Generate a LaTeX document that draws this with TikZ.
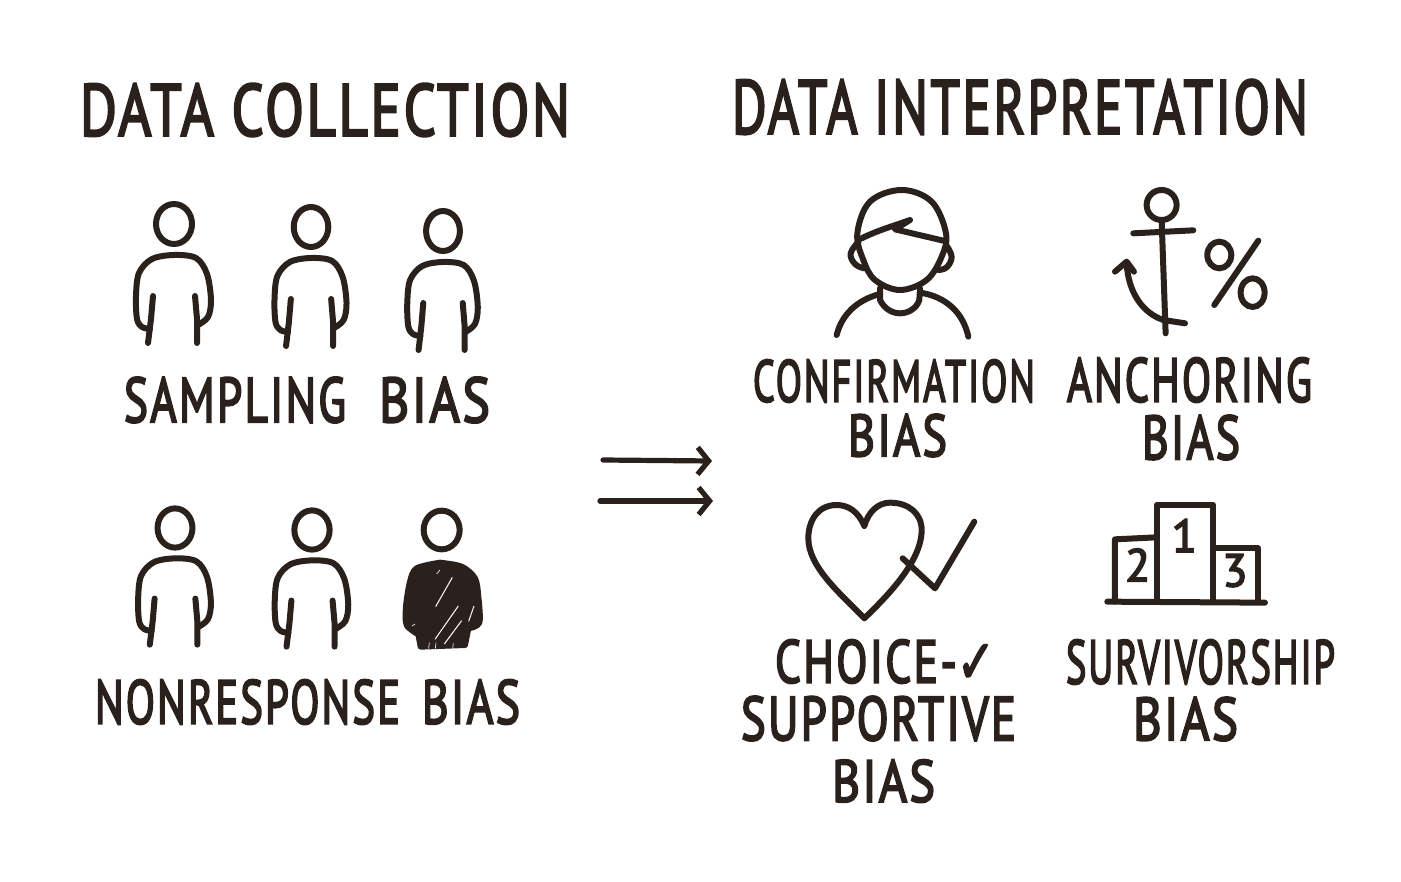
\documentclass[tikz,border=0pt]{standalone}
\usepackage{fontspec}
\setmainfont{PT Sans}[LetterSpace=5,FakeBold=3.5]
\newfontfamily\checkfont{DejaVu Sans}[FakeBold=3]
\usetikzlibrary{positioning,arrows.meta}
\definecolor{inkbrown}{HTML}{2A211C}
\newcommand{\handtext}[3]{\resizebox{#1}{#2}{#3}}
\tikzset{
    every node/.style={text=inkbrown,inner sep=0pt},
    ink/.style={draw=inkbrown,line width=3pt,line cap=round,line join=round},
    digit/.style={font=\fontsize{23}{23}\selectfont},
    flow/.style={ink,line width=2.6pt,-{Straight Barb[length=5.5pt,width=13.5pt,line width=2.6pt]}},
    person/.pic={
        \draw[ink] (0,0) ellipse [x radius=18,y radius=20];
        \draw[ink] plot[smooth,tension=.55] coordinates {(-24,105) (-32,103) (-37,95) (-38,72) (-35,49) (-22,35) (0,31) (22,34) (33,50) (37,76) (34,93) (24,101)};
        \draw[ink] (-21,72) -- (-23,95) -- (-26,119);
        \draw[ink] (21,72) -- (23,95) -- (23,119);
    }
}
\begin{document}
\begin{tikzpicture}[x=.5pt,y=-.5pt]
    \useasboundingbox (0,0) rectangle (1401,882);

    % titles
    \node (collect) at (325,110) {\handtext{245pt}{26pt}{DATA COLLECTION}};
    \node (interp) at (1020,107) {\handtext{288pt}{27pt}{DATA INTERPRETATION}};

    % left column
    \pic at (174,224) {person};
    \pic[xscale=.96] at (311,227) {person};
    \pic[xscale=.94] at (443,231) {person};
    \node (sampling) at (307,400) {\handtext{111pt}{22.5pt}{SAMPLING}\hspace{16.5pt}\handtext{55.5pt}{22.5pt}{BIAS}};

    \pic[xscale=.97,yscale=.98] at (175,528) {person};
    \pic[xscale=.98,yscale=.98] at (312,530) {person};
    \begin{scope}[shift={(390,500)},scale=.3333]
        \draw[ink] (155,90) ellipse [x radius=54,y radius=58];
        \draw[ink,fill=inkbrown] plot[smooth,tension=.5] coordinates {(150,188) (80,205) (60,245) (48,320) (50,375) (85,403)} -- (92,440) -- (225,435) -- (235,385) plot[smooth,tension=.5] coordinates {(235,385) (268,368) (265,290) (255,235) (215,200) (150,188)};
        \draw[white,line width=.5pt] (187,232) -- (137,320);
        \draw[white,line width=.5pt] (252,318) -- (236,364);
        \draw[white,line width=.5pt] (205,318) -- (135,418);
        \draw[white,line width=.5pt] (215,362) -- (163,432);
        \draw[white,line width=.3pt] (150,210) -- (140,222);
        \draw[white,line width=.3pt] (75,372) -- (66,378);
        \draw[white,line width=.3pt] (118,428) -- (116,446);
        \draw[white,line width=.3pt] (138,428) -- (136,446);
        \draw[white,line width=.3pt] (190,430) -- (188,446);
    \end{scope}
    \node (nonresp) at (307.5,702) {\handtext{152.5pt}{22pt}{NONRESPONSE}\hspace{11pt}\handtext{49pt}{22pt}{BIAS}};

    % arrows in the middle
    \coordinate (flowa) at (603,460);
    \coordinate (flowb) at (712,461);
    \coordinate (flowc) at (600,501);
    \coordinate (flowd) at (713,501);
    \draw[flow] (flowa) -- (flowb);
    \draw[flow] (flowc) -- (flowd);

    % confirmation
    \begin{scope}[shift={(800,170)},scale=.3333]
        \draw[ink] plot[smooth cycle,tension=.6] coordinates {(305,60) (395,95) (438,190) (425,260) (380,330) (300,360) (225,330) (190,270) (172,190) (210,95)};
        \draw[ink] (185,205) .. controls (235,180) and (290,165) .. (330,150) -- (285,178) -- (430,212);
        \draw[ink] plot[smooth,tension=.7] coordinates {(176,215) (152,250) (165,282) (192,295)};
        \draw[ink] plot[smooth,tension=.7] coordinates {(438,225) (455,260) (440,292) (415,300)};
        \draw[ink] (240,355) -- (240,390) .. controls (255,420) and (280,430) .. (300,430) .. controls (325,430) and (350,415) .. (358,390) -- (360,355);
        \draw[ink] (110,495) .. controls (125,435) and (170,390) .. (240,372);
        \draw[ink] (360,368) .. controls (440,380) and (490,430) .. (505,500);
    \end{scope}
    \node (confirm) at (894,381) {\handtext{141pt}{21pt}{CONFIRMATION}};
    \node[below=5.5pt of confirm,xshift=1.75pt] (confirmb) {\handtext{49.5pt}{21pt}{BIAS}};

    % anchoring
    \begin{scope}[shift={(800,170)},scale=.3333]
        \draw[ink] (1085,105) circle [radius=45];
        \draw[ink] (1085,150) -- (1097,490);
        \draw[ink] (1000,190) -- (1180,181);
        \draw[ink] (980,280) .. controls (985,370) and (1030,430) .. (1090,450) -- (1155,460);
        \draw[ink] (945,305) -- (980,275) -- (1002,305);
        \draw[ink] (1258,255) ellipse [x radius=36,y radius=40];
        \draw[ink] (1358,368) ellipse [x radius=36,y radius=43];
        \draw[ink] (1375,212) -- (1243,405);
    \end{scope}
    \node (anchoring) at (1189.5,380) {\handtext{122.5pt}{22pt}{ANCHORING}};
    \node[below=6pt of anchoring,xshift=.75pt] (anchoringb) {\handtext{49pt}{22pt}{BIAS}};

    % choice supportive
    \begin{scope}[shift={(780,490)},scale=.3333]
        \draw[ink] (253,108) .. controls (235,65) and (205,45) .. (170,45) .. controls (115,45) and (85,90) .. (85,145) .. controls (85,230) and (180,310) .. (253,385) .. controls (320,320) and (425,215) .. (425,120) .. controls (425,70) and (385,38) .. (330,38) .. controls (295,38) and (265,65) .. (253,108);
        \draw[ink] (368,205) -- (465,295) -- (583,95);
    \end{scope}
    \node (choice) at (885,661.5) {\handtext{110pt}{21.5pt}{CHOICE-{\checkfont ✓}}};
    \node[below=6pt of choice,xshift=-3.25pt] (supportive) {\handtext{137.5pt}{22pt}{SUPPORTIVE}};
    \node[below=9pt of supportive,xshift=2.5pt] (choiceb) {\handtext{51.5pt}{21pt}{BIAS}};

    % survivorship
    \begin{scope}[shift={(780,490)},scale=.3333]
        \draw[ink] (1130,335) -- (1130,45) -- (1300,45) -- (1300,335);
        \draw[ink] (1005,335) -- (1005,148) -- (1130,142);
        \draw[ink] (1300,175) -- (1435,175) -- (1435,335);
        \draw[ink] (982,335) -- (1455,338);
        \node[digit] (one) at (1213,137) {1};
        \node[digit] (two) at (1073,225) {2};
        \node[digit] (three) at (1365,242) {3};
    \end{scope}
    \node (survivor) at (1200.5,662) {\handtext{134.5pt}{22pt}{SURVIVORSHIP}};
    \node[below=6pt of survivor,xshift=-7.5pt] (survivorb) {\handtext{52.5pt}{21.5pt}{BIAS}};
\end{tikzpicture}
\end{document}
